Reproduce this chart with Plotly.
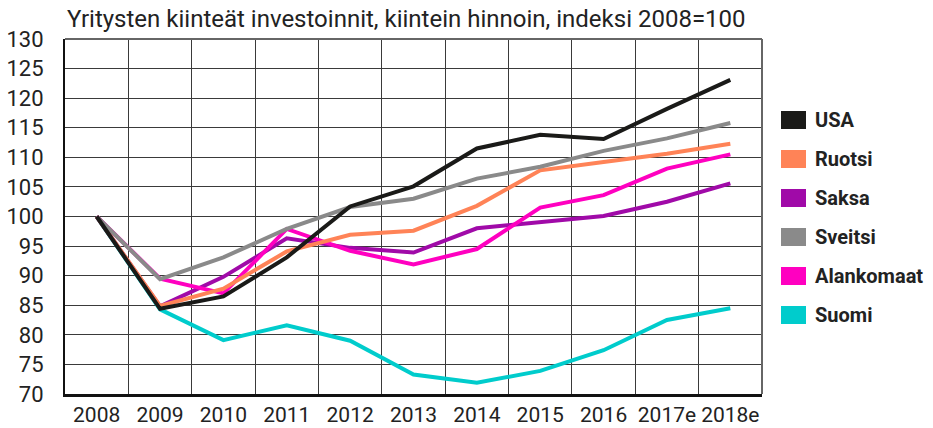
import plotly.graph_objects as go

title = "Yritysten kiinteät investoinnit, kiintein hinnoin, indeksi 2008=100"
years = ["2008", "2009", "2010", "2011", "2012", "2013", "2014", "2015", "2016", "2017e", "2018e"]

usa        = [100, 84.4, 86.5, 93.1, 101.7, 105.1, 111.5, 113.8, 113.1, 118.2, 123.1]
ruotsi     = [100, 84.9, 87.8, 94.1, 96.9, 97.6, 101.8, 107.8, 109.2, 110.6, 112.3]
saksa      = [100, 84.8, 89.8, 96.3, 94.7, 93.9, 98.0, 99.0, 100.1, 102.5, 105.6]
sveitsi    = [100, 89.4, 93.1, 97.9, 101.6, 103.0, 106.4, 108.4, 111.1, 113.2, 115.8]
alankomaat = [100, 89.5, 87.0, 97.9, 94.2, 91.9, 94.5, 101.5, 103.6, 108.1, 110.5]
suomi      = [100, 84.3, 79.1, 81.6, 79.0, 73.3, 71.9, 73.9, 77.4, 82.5, 84.5]

names  = ["USA", "Ruotsi", "Saksa", "Sveitsi", "Alankomaat", "Suomi"]
series = [usa, ruotsi, saksa, sveitsi, alankomaat, suomi]
colors = ["#1a1a18", "#ff8357", "#a00aa8", "#8a8a8a", "#ff00c0", "#00cccc"]

y_ticks = list(range(70, 131, 5))

fig = go.Figure()
draw_order = ["Suomi", "Saksa", "Alankomaat", "Ruotsi", "Sveitsi", "USA"]
for nm in draw_order:
    i = names.index(nm)
    fig.add_trace(go.Scatter(
        x=years, y=series[i], mode="lines", name=nm,
        line=dict(color=colors[i], width=4), showlegend=False,
    ))

W, H = 933, 428
L, R, T, B = 65, 762, 39, 394
pw, ph = R - L, B - T

def px2x(p):
    return (p - L) / pw

def py2y(p):
    return (B - p) / ph

shapes = []
annotations = []
# top and right border
shapes.append(dict(type="line", xref="paper", yref="paper", x0=0, x1=1, y0=1, y1=1,
                   line=dict(color="#666", width=2)))
shapes.append(dict(type="line", xref="paper", yref="paper", x0=1, x1=1, y0=0, y1=1,
                   line=dict(color="#666", width=2)))

# custom legend
for k, nm in enumerate(names):
    cy = 120 + 39 * k
    shapes.append(dict(type="rect", xref="paper", yref="paper",
                       x0=px2x(781), x1=px2x(806), y0=py2y(cy + 9), y1=py2y(cy - 9),
                       fillcolor=colors[k], line=dict(width=0)))
    annotations.append(dict(xref="paper", yref="paper", x=px2x(813), y=py2y(cy),
                            text="<b>" + nm + "</b>", showarrow=False,
                            xanchor="left", yanchor="middle",
                            font=dict(size=20, color="#222", family="Roboto")))

# title as an annotation just above the plot area
annotations.append(dict(xref="paper", yref="paper", x=0, y=py2y(19), text=title,
                        showarrow=False, xanchor="left", yanchor="middle",
                        font=dict(size=24, color="#222", family="Roboto")))

fig.update_layout(
    width=W, height=H,
    margin=dict(l=L, r=W - R, t=T, b=H - B, pad=0),
    paper_bgcolor="white", plot_bgcolor="white",
    font=dict(family="Roboto", color="#222"),
    shapes=shapes, annotations=annotations,
    xaxis=dict(type="category", categoryorder="array", categoryarray=years,
               range=[-0.5, len(years) - 0.5], tickson="boundaries",
               showgrid=True, gridcolor="#3a3a3a", gridwidth=1,
               showline=True, linecolor="#111", linewidth=2.5,
               ticks="", tickangle=0, automargin=False,
               tickfont=dict(size=21, color="#222")),
    yaxis=dict(range=[70, 130], tickvals=y_ticks, ticktext=[str(v) for v in y_ticks],
               showgrid=True, gridcolor="#3a3a3a", gridwidth=1,
               showline=True, linecolor="#111", linewidth=2, automargin=False,
               ticks="", ticklabelstandoff=15, tickfont=dict(size=22, color="#222"),
               zeroline=False),
)

fig.write_html("out.html", config={"displayModeBar": False},
               post_script="document.body.style.margin='0';document.body.style.overflow='hidden';")
